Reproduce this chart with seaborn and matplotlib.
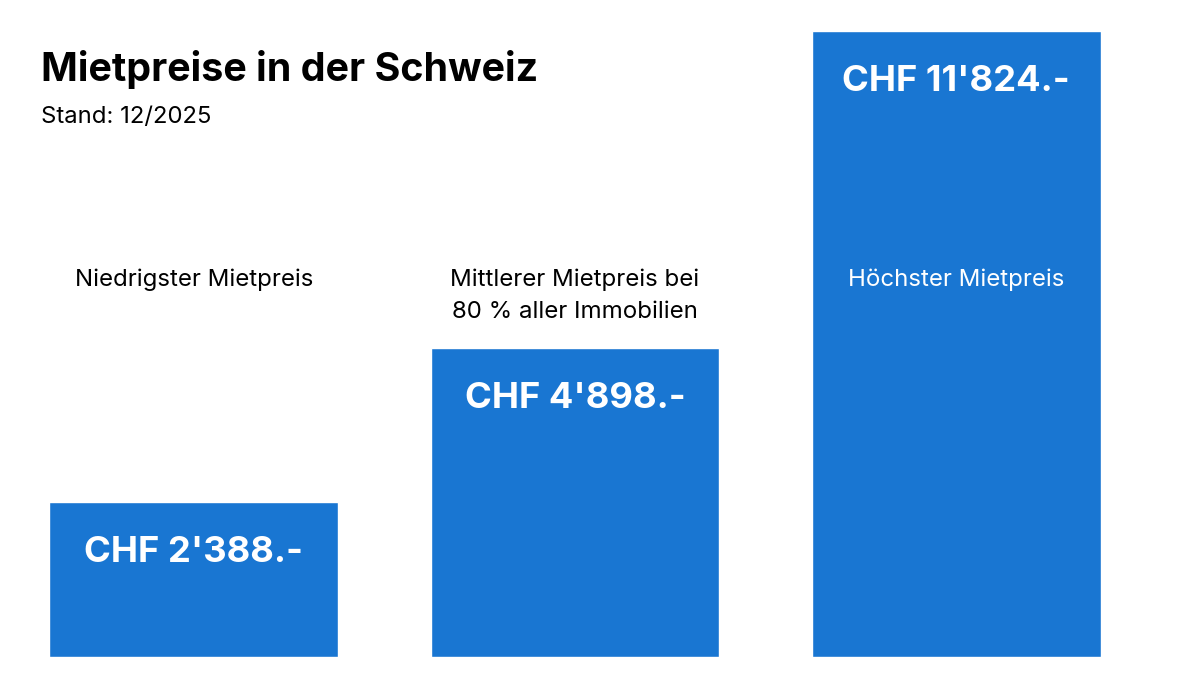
import numpy as np
import pandas as pd
import matplotlib
matplotlib.use("Agg")
import matplotlib.pyplot as plt
import seaborn as sns

# data
categories = ["Niedrigster Mietpreis",
              "Mittlerer Mietpreis bei\n80 % aller Immobilien",
              "Höchster Mietpreis"]
prices = [2388, 4898, 11824]
# drawn bar height in % of the tallest bar (the original is not to scale)
bar_level = [24.8, 49.3, 100.0]

title = "Mietpreise in der Schweiz"
subtitle = "Stand: 12/2025"

BLUE = "#1976D2"

sns.set_theme(style="white")
plt.rcParams['font.family'] = ['Inter', 'DejaVu Sans']

df = pd.DataFrame({"kategorie": categories, "preis": prices, "hoehe": bar_level})

fig = plt.figure(figsize=(12, 6.75), dpi=100)
ax = fig.add_axes([49.5 / 1200, 18 / 675, 1051 / 1200, 626 / 675])

sns.barplot(data=df, x="kategorie", y="hoehe", color=BLUE, saturation=1,
            width=0.758, ax=ax)

ax.set_xlim(-0.379, 2.379)
ax.set_ylim(0, 100)
ax.set_axis_off()

def chf(v):
    return "CHF {:,}.-".format(v).replace(",", "'")

label_top = 62.1  # top of the first line of the category labels
for i, row in df.iterrows():
    # value label near the top of the bar
    ax.text(i, row.hoehe - 9.6, chf(row.preis), ha="center", va="baseline",
            fontsize=26.2, fontweight="bold", color="white")
    col = "white" if row.hoehe > label_top else "black"
    ax.text(i, label_top, row.kategorie, ha="center", va="top",
            fontsize=17.3, color=col, linespacing=1.62)

fig.text(41 / 1200, 1 - 80.7 / 675, title, ha="left", va="baseline",
         fontsize=28.4, fontweight="bold", color="black")
fig.text(41 / 1200, 1 - 123.3 / 675, subtitle, ha="left", va="baseline",
         fontsize=17.2, color="black")

fig.savefig("out.png", dpi=100, facecolor="white")
